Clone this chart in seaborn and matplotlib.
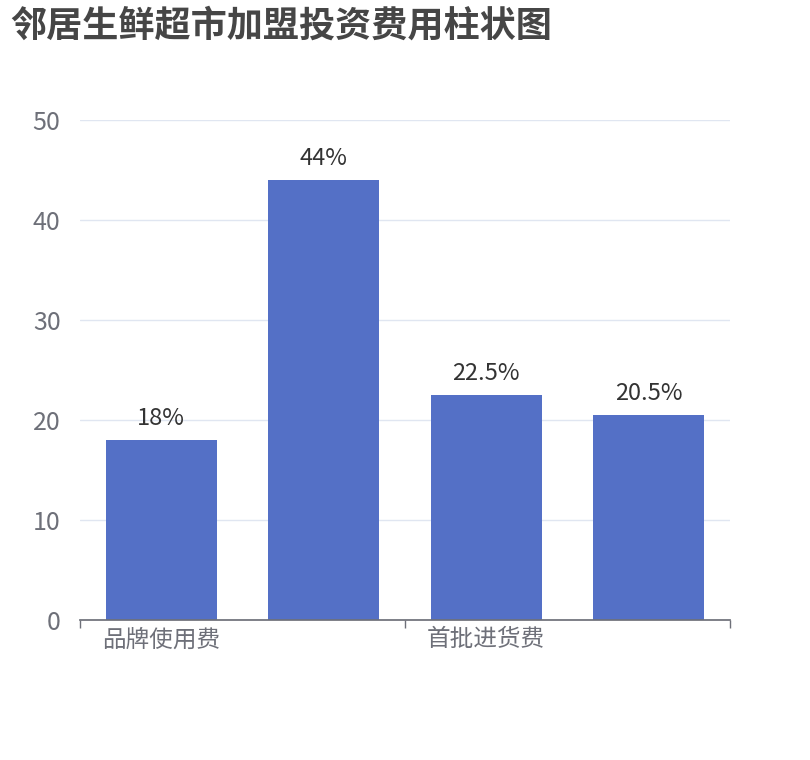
import matplotlib
matplotlib.use("Agg")
import matplotlib.pyplot as plt
import seaborn as sns
import pandas as pd

categories = ["品牌使用费", "装修费用", "首批进货费", "设备费用"]
values = [18, 44, 22.5, 20.5]
labels = ["18%", "44%", "22.5%", "20.5%"]

sns.set_theme(style="white")
plt.rcParams['font.family'] = ['Noto Sans CJK SC', 'DejaVu Sans']

fig = plt.figure(figsize=(8.1, 7.6), dpi=100)
ax = fig.add_axes([80/810, 140/760, 650/810, 500/760])
df = pd.DataFrame({"cat": categories, "val": values})
sns.barplot(data=df, x="cat", y="val", color="#5470c6", saturation=1, width=0.685,
            linewidth=0, ax=ax)
for p, t in zip(ax.patches, labels):
    ax.text(p.get_x() + p.get_width()/2, p.get_height() + 1.0, t, ha="center", va="bottom",
            fontsize=17, color="#333333")
ax.set_ylim(0, 50)
ax.set_xlim(-0.5, 3.5)
ax.set_yticks(range(0, 51, 10))
ax.yaxis.grid(True, color="#e0e6f1", linewidth=1)
ax.set_axisbelow(True)
for s in ["top", "right", "left"]:
    ax.spines[s].set_visible(False)
ax.spines["bottom"].set_color("#6e7079")
ax.set_xticks([0, 2])
ax.set_xticklabels(["品牌使用费", "首批进货费"])
ax.set_xticks([-0.5, 1.5, 3.5], minor=True)
ax.tick_params(axis="x", which="major", length=0, labelsize=17, labelcolor="#6e7079", pad=6)
ax.tick_params(axis="x", which="minor", length=6, color="#6e7079", direction="out", bottom=True)
ax.tick_params(axis="y", length=0, labelsize=18, labelcolor="#6e7079", pad=14)
ax.set_xlabel("")
ax.set_ylabel("")
fig.text(10/810, 1 - 26/760, "邻居生鲜超市加盟投资费用柱状图", fontsize=26, fontweight="bold",
         color="#464646", va="center", ha="left")
fig.savefig("out.png", dpi=100)
